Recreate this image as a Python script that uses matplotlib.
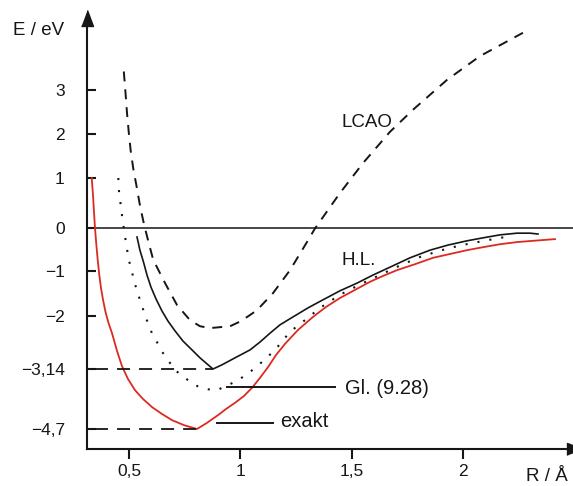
import numpy as np
import matplotlib
matplotlib.use("Agg")
import matplotlib.pyplot as plt

plt.rcParams['font.family'] = ['Liberation Sans', 'DejaVu Sans']

# distances R / Angstrom and energies E / eV
lcao_r = [0.4767, 0.485, 0.491, 0.4987, 0.5076, 0.5193, 0.5346, 0.5507, 0.5687, 0.590, 0.609, 0.662,
          0.716, 0.774, 0.8188, 0.864, 0.954, 0.9984, 1.043, 1.075, 1.147, 1.223, 1.299, 1.335, 1.447,
          1.551, 1.672, 1.775, 1.928, 2.076, 2.269]
lcao_e = [3.42, 2.89, 2.48, 2.05, 1.62, 1.21, 0.82, 0.42, 0.06, -0.37, -0.74, -1.27,
          -1.76, -2.09, -2.22, -2.26, -2.22, -2.12, -1.98, -1.87, -1.49, -0.98, -0.32, 0.0, 0.70,
          1.34, 2.05, 2.55, 3.23, 3.77, 4.30]

hl_r = [0.536, 0.549, 0.5651, 0.5808, 0.5988, 0.6212, 0.6482, 0.6751, 0.7066, 0.7425, 0.7829, 0.8188,
        0.8502, 0.8772, 0.9176, 0.976, 1.0433, 1.0882, 1.1331, 1.178, 1.2364, 1.3038, 1.3711, 1.4475,
        1.5238, 1.5956, 1.672, 1.7618, 1.8516, 1.9324, 2.0178, 2.0896, 2.1659, 2.2423, 2.3006, 2.3366]
hl_e = [-0.20, -0.51, -0.79, -1.09, -1.36, -1.62, -1.89, -2.11, -2.32, -2.54, -2.73, -2.90,
        -3.03, -3.14, -3.05, -2.90, -2.73, -2.56, -2.37, -2.19, -2.02, -1.82, -1.64, -1.44,
        -1.27, -1.09, -0.91, -0.69, -0.51, -0.39, -0.29, -0.22, -0.15, -0.11, -0.11, -0.13]

gl_r = [0.452, 0.455, 0.461, 0.467, 0.474, 0.482, 0.490, 0.497, 0.513, 0.531, 0.549, 0.576, 0.603,
        0.630, 0.653, 0.707, 0.751, 0.796, 0.841, 0.895, 0.985, 1.043, 1.097, 1.156, 1.223, 1.290,
        1.358, 1.447, 1.537, 1.627, 1.717, 1.807, 1.897, 1.986, 2.076, 2.166, 2.224]
gl_e = [1.00, 0.74, 0.53, 0.31, 0.09, -0.18, -0.44, -0.69, -1.02, -1.36, -1.64, -2.04, -2.37,
        -2.60, -2.80, -3.17, -3.37, -3.56, -3.66, -3.69, -3.45, -3.22, -2.99, -2.73, -2.34, -2.09,
        -1.82, -1.53, -1.30, -1.09, -0.87, -0.67, -0.52, -0.40, -0.31, -0.22, -0.18]

ex_r = [0.3325, 0.3384, 0.3428, 0.3473, 0.3532, 0.3595, 0.3666, 0.3743, 0.3833, 0.3945, 0.4079, 0.4237,
        0.4461, 0.4686, 0.4955, 0.5269, 0.5629, 0.6033, 0.6482, 0.6931, 0.747, 0.8053, 0.8502, 0.8996,
        0.9356, 0.976, 1.0164, 1.0523, 1.0882, 1.1242, 1.1601, 1.2005, 1.2589, 1.3262, 1.3846, 1.4475,
        1.5148, 1.5822, 1.6406, 1.7034, 1.7843, 1.8651, 1.9414, 2.0178, 2.0896, 2.1659, 2.2423, 2.3141,
        2.4129]
ex_e = [1.00, 0.66, 0.33, 0.01, -0.37, -0.74, -1.09, -1.38, -1.64, -1.91, -2.15, -2.37,
        -2.75, -3.08, -3.40, -3.69, -3.92, -4.13, -4.31, -4.47, -4.60, -4.70, -4.54, -4.34,
        -4.18, -4.02, -3.84, -3.63, -3.37, -3.10, -2.84, -2.60, -2.30, -2.02, -1.80, -1.60,
        -1.42, -1.24, -1.11, -0.98, -0.84, -0.69, -0.60, -0.51, -0.44, -0.37, -0.32, -0.29,
        -0.25]

ytick_vals = [3, 2, 1, 0, -1, -2, -3.14, -4.7]
ytick_labs = ['3', '2', '1', '0', '\u22121', '\u22122', '\u22123,14', '\u22124,7']
xtick_vals = [0.5, 1, 1.5, 2]
xtick_labs = ['0,5', '1', '1,5', '2']

# the energy axis of the drawing is not evenly spaced, so the scale goes through the ticks
knot_e = np.array([-10, -4.7, -3.14, -2, -1, 0, 1, 2, 3, 10])
knot_h = -np.array([641, 429, 369, 316, 271, 228.5, 178, 134, 90, -218])

def fwd(v):
    return np.interp(v, knot_e, knot_h)

def inv(t):
    return np.interp(t, knot_h, knot_e)

ink = '#161616'
red = '#dc2a22'

fig = plt.figure(figsize=(5.73, 4.86), dpi=100)
ax = fig.add_axes([87/573, 1 - 449/486, 488/573, (449 - 17.6)/486])
ax.set_yscale('function', functions=(fwd, inv))

ax.axhline(0, color=ink, lw=1.1)
ax.plot(lcao_r, lcao_e, color=ink, lw=1.4, ls=(0, (5.1, 4.1)))
ax.plot(gl_r, gl_e, color=ink, lw=1.5, ls=(0, (1, 4.8)))
ax.plot(hl_r, hl_e, color=ink, lw=1.2)
ax.plot(ex_r, ex_e, color=red, lw=1.3)

ax.hlines(-3.14, 0.347, 0.8772, color=ink, lw=1.3, ls=(0, (7.2, 5)))
ax.hlines(-4.7, 0.347, 0.819, color=ink, lw=1.3, ls=(0, (7.2, 5)))

ax.plot([0.940, 1.425], [-3.61, -3.61], color=ink, lw=1.4)
ax.plot([0.895, 1.147], [-4.54, -4.54], color=ink, lw=1.4)

ax.text(1.455, 2.17, 'LCAO', fontsize=13.5, color=ink, va='baseline')
ax.text(1.456, -0.86, 'H.L.', fontsize=13.5, color=ink, va='baseline')
ax.text(1.470, -3.79, 'Gl. (9.28)', fontsize=14.5, color=ink, va='baseline')
ax.text(1.178, -4.65, 'exakt', fontsize=14.5, color=ink, va='baseline')

ax.set_xlim(0.3114, 2.5027)
ax.set_ylim(-5.2, 4.645)

for s in ['top', 'right']:
    ax.spines[s].set_visible(False)
for s in ['left', 'bottom']:
    ax.spines[s].set_linewidth(1.5)
    ax.spines[s].set_color(ink)

ax.set_xticks(xtick_vals, xtick_labs)
ax.set_yticks(ytick_vals, ytick_labs)
ax.minorticks_off()
ax.tick_params(axis='x', direction='out', length=7, width=1.5, pad=4, labelsize=12.5,
               color=ink, labelcolor=ink)
ax.tick_params(axis='y', direction='in', length=6.5, width=1.5, pad=16, labelsize=12.5,
               color=ink, labelcolor=ink)

# arrow heads on both axes
ax.plot(0, 1, marker=[(-0.75, -1), (0.75, -1), (0, 1)], markersize=11.5, color=ink,
        transform=ax.transAxes, clip_on=False)
ax.plot(1, 0, marker=[(-1, -0.75), (-1, 0.75), (1, 0)], markersize=11.5, color=ink,
        transform=ax.transAxes, clip_on=False)

fig.text(13/573, 1 - 35/486, 'E / eV', fontsize=13.5, color=ink, va='baseline')
fig.text(526/573, 1 - 481/486, 'R / \u00c5', fontsize=13.5, color=ink, va='baseline')

fig.savefig('out.png', dpi=100)
